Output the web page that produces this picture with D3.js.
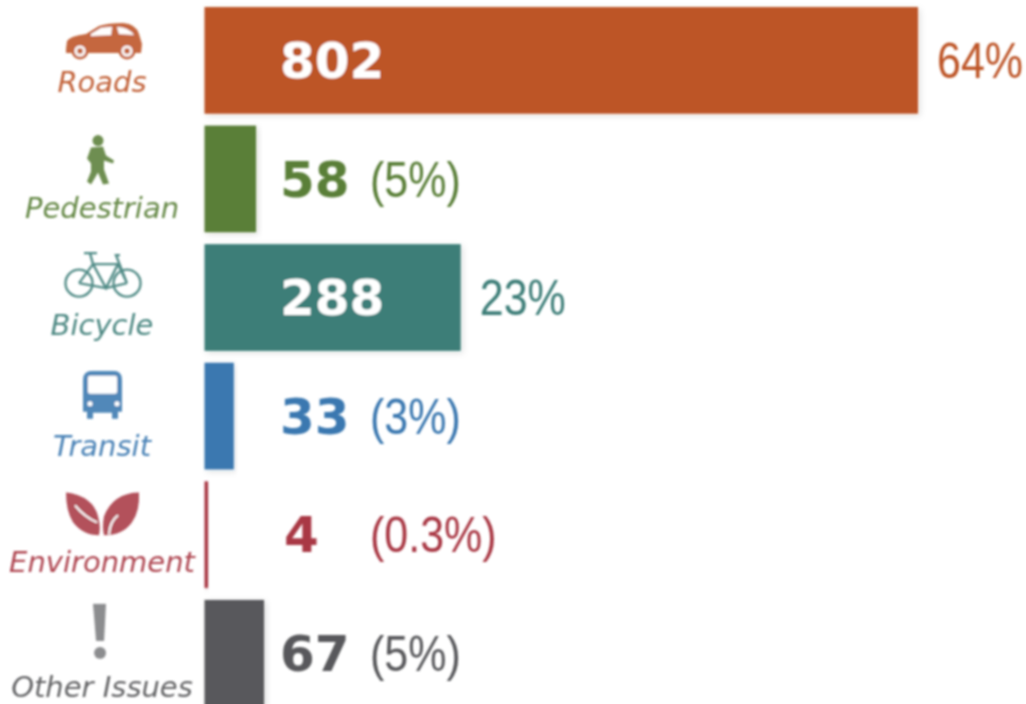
<!DOCTYPE html>
<html>
<head>
<meta charset="utf-8">
<script src="https://cdnjs.cloudflare.com/ajax/libs/d3/7.8.5/d3.min.js"></script>
<style>
  html, body { margin: 0; padding: 0; background: #fff; overflow: hidden; }
  svg { display: block; }
  .cat { font-family: "DejaVu Sans", sans-serif; font-style: italic; font-size: 29px; text-anchor: middle; opacity: .92; }
  .num { font-family: "DejaVu Sans", sans-serif; font-weight: 700; font-size: 50px; }
  .pct { font-family: "Liberation Sans", sans-serif; font-size: 50px; }
</style>
</head>
<body>
<svg id="chart" width="1026" height="704"></svg>
<script>
const categories = ['Roads', 'Pedestrian', 'Bicycle', 'Transit', 'Environment', 'Other Issues']
const counts = [802, 58, 288, 33, 4, 67]
const shares = ['64%', '(5%)', '23%', '(3%)', '(0.3%)', '(5%)']

const colors = ['#bd5427', '#5a7f38', '#3d7e78', '#3b78b0', '#a93844', '#58595b']

const svg = d3.select('#chart')

const defs = svg.append('defs')
defs.append('filter').attr('id', 'soft')
    .append('feGaussianBlur').attr('stdDeviation', 0.9)
const shadow = defs.append('filter').attr('id', 'shadow')
    .attr('x', '-5%').attr('y', '-5%').attr('width', '115%').attr('height', '115%')
shadow.append('feDropShadow')
    .attr('dx', 2).attr('dy', 2).attr('stdDeviation', 3)
    .attr('flood-color', '#000').attr('flood-opacity', 0.13)

const xScale = d3.scaleLinear()
    .domain([0, 802])
    .range([204.5, 918])

const yScale = d3.scaleBand()
    .domain(categories)
    .range([7, 7 + 118.6 * 6 - 12])
    .paddingInner(0.1)

const color = d3.scaleOrdinal().domain(categories).range(colors)

const gs = svg.selectAll('.row')
    .data(categories)
    .enter()
    .append('g')
    .attr('class', 'row')
    .attr('transform', d => `translate(0,${yScale(d)})`)
    .attr('filter', 'url(#soft)')

gs.append('rect')
    .attr('x', xScale(0))
    .attr('width', (d, i) => xScale(counts[i]) - xScale(0))
    .attr('height', yScale.bandwidth())
    .attr('fill', d => color(d))
    .attr('filter', 'url(#shadow)')

// number sits in the same column whatever the bar size, white if it lands on the bar
const inside = d => d > 100
gs.append('text')
    .attr('class', 'num')
    .attr('x', (d, i) => counts[i] === 4 ? 284 : 280)
    .attr('y', 71)
    .attr('fill', (d, i) => inside(counts[i]) ? '#fff' : color(d))
    .text((d, i) => counts[i])

// no condensed face installed, so squeeze it
gs.append('text')
    .attr('class', 'pct')
    .attr('transform', (d, i) => `translate(${inside(counts[i]) ? xScale(counts[i]) + 19 : 370},71) scale(0.86,1)`)
    .attr('fill', d => color(d))
    .text((d, i) => shares[i])

const labelDrop = [85, 92, 91, 93, 91, 97]
gs.append('text')
    .attr('class', 'cat')
    .attr('x', 102)
    .attr('y', (d, i) => labelDrop[i])
    .attr('fill', d => color(d))
    .text(d => d)

// icons, hand traced, origin at label centre / bar top
const icons = gs.append('g')
    .attr('transform', 'translate(103,0)')
    .attr('fill', d => color(d))
    .attr('opacity', 0.88)

const car = d3.select(icons.nodes()[0])
car.append('path').attr('d', 'M-37,42 L-36,34 Q-33,29 -17,27 L-4,19 Q5,16 20,16 Q33,17 36,27 L39,37 L38,46 L-37,46 Z')
car.append('path').attr('fill', '#fff').attr('d', 'M-12,27 L-2,21 Q4,20 9,20 L8,28 L-12,29 Z')
car.append('path').attr('fill', '#fff').attr('d', 'M14,20 Q25,20 31,28 L16,27 Z')
;[-23, 24].forEach(cx => {
    car.append('circle').attr('cx', cx).attr('cy', 44).attr('r', 8.5)
    car.append('circle').attr('cx', cx).attr('cy', 44).attr('r', 5.5).attr('fill', '#fff')
    car.append('circle').attr('cx', cx).attr('cy', 44).attr('r', 3)
})

const walker = d3.select(icons.nodes()[1])
walker.append('circle').attr('cx', -5).attr('cy', 15).attr('r', 5.5)
walker.append('path').attr('d', 'M-12,22 L0,21 L3,30 L11,35 L10,38 L1,35 L1,44 L6,58 L0,59 L-5,47 L-9,54 L-12,59 L-16,56 L-12,46 L-12,38 L-16,33 Z')

const bike = d3.select(icons.nodes()[2])
bike.attr('fill', 'none').attr('stroke', d => color(d)).attr('stroke-width', 2.4)
bike.append('circle').attr('cx', -24).attr('cy', 39).attr('r', 13.5)
bike.append('circle').attr('cx', 24).attr('cy', 39).attr('r', 13.5)
bike.append('path').attr('d', 'M-24,39 L-10,20 L15,20 L3,44 L-10,20 M3,44 L-24,39 M24,39 L13,11 L17,11 M15,20 L24,39 M3,44 L24,39 M-10,20 L-13,9 M-19,9 L-6,9')

const bus = d3.select(icons.nodes()[3])
bus.append('path').attr('d', 'M-20,17 Q-20,8 -10,8 L10,8 Q19,8 19,17 L19,49 L15,49 L15,56 L9,56 L9,50 L-10,50 L-10,56 L-16,56 L-16,49 L-20,49 Z')
bus.append('rect').attr('x', -15).attr('y', 13).attr('width', 29).attr('height', 18).attr('rx', 2).attr('fill', '#fff')
bus.append('circle').attr('cx', -13).attr('cy', 41).attr('r', 2.5).attr('fill', '#fff')
bus.append('circle').attr('cx', 14).attr('cy', 41).attr('r', 2.5).attr('fill', '#fff')

const leaves = d3.select(icons.nodes()[4])
leaves.append('path').attr('d', 'M-37,11 Q-10,15 -5,35 Q-2,46 -4,54 Q-20,54 -30,41 Q-37,30 -37,11 Z')
leaves.append('path').attr('d', 'M36,11 Q10,12 1,35 Q-1,46 1,54 Q20,54 29,41 Q37,30 36,11 Z')
leaves.append('path').attr('fill', 'none').attr('stroke', '#fff').attr('stroke-width', 2)
    .attr('d', 'M-28,24 Q-18,36 -6,41 M15,34 Q7,40 6,53')

const bang = d3.select(icons.nodes()[5])
bang.attr('fill', '#8c8d8f').attr('opacity', 1)
bang.append('path').attr('d', 'M-10,4 L3,4 L1,41 L-7,41 Z')
bang.append('circle').attr('cx', -3).attr('cy', 53).attr('r', 6)
</script>
</body>
</html>
